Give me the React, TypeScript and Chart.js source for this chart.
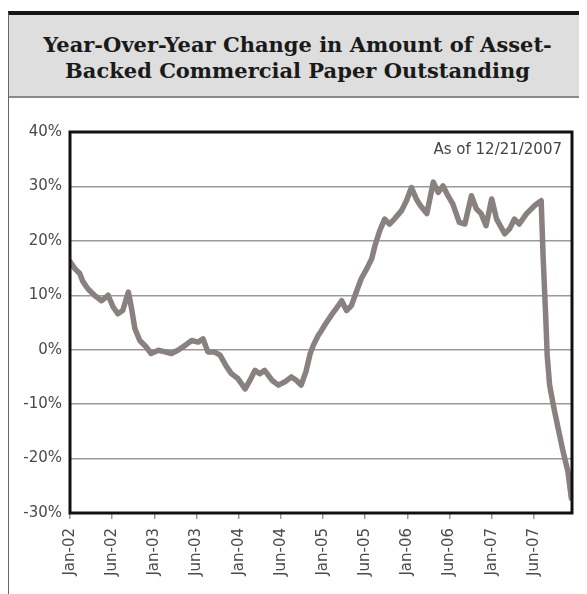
import React, { useEffect, useRef } from "react";
import { Chart, registerables } from "chart.js";

Chart.register(...registerables);

const titleLines = [
  "Year-Over-Year Change in Amount of Asset-",
  "Backed Commercial Paper Outstanding",
];
const asOfNote = "As of 12/21/2007";

// x-axis tick labels (one every 26 weeks)
const tickLabels = [
  "Jan-02", "Jun-02", "Jan-03", "Jun-03", "Jan-04", "Jun-04",
  "Jan-05", "Jun-05", "Jan-06", "Jun-06", "Jan-07", "Jun-07",
];
const weeksPerTick = 26;
const lastWeek = 309.5;

// weeks since the first week of Jan-02
const weeks = [
  0, 3, 6, 8, 11, 15, 19.5, 23.5, 26.5, 29.5, 32.5, 36, 38, 40, 43, 47, 50,
  54.5, 58.5, 62.5, 66.5, 71, 75, 79, 82, 85, 89, 92.5, 96.5, 99.5, 103.5,
  108, 111, 114, 117, 120, 124.5, 128.5, 132.5, 136.5, 139.5, 142.5, 145.5,
  148, 150, 153, 155, 157, 161, 164, 167.5, 170.5, 173.5, 176.5, 179.5, 183,
  186, 188, 191, 194, 197, 200, 204.5, 207.5, 210.5, 213.5, 216, 220, 224,
  227, 230, 233, 236, 240, 243.5, 247.5, 250.5, 253.5, 256.5, 260, 263, 268,
  271, 274, 277, 281.5, 286.5, 290.5, 291.7, 293.3, 294.2, 295.7, 298, 301,
  304, 307, 309.1,
];
// year-over-year change, %
const yoyChange = [
  16.2, 14.9, 14.0, 12.5, 11.2, 10.0, 9.0, 10.0, 7.9, 6.6, 7.2, 10.6, 7.5,
  3.9, 1.7, 0.5, -0.7, -0.1, -0.4, -0.7, -0.1, 0.8, 1.7, 1.4, 2.0, -0.4,
  -0.4, -1.0, -3.1, -4.4, -5.3, -7.2, -5.6, -3.8, -4.4, -3.8, -5.6, -6.5,
  -5.9, -5.0, -5.6, -6.5, -4.0, -0.8, 0.8, 2.6, 3.5, 4.5, 6.3, 7.5, 9.0,
  7.2, 8.1, 10.6, 13.0, 14.9, 16.7, 19.1, 21.9, 24.0, 23.1, 24.0, 25.6,
  27.4, 29.8, 27.7, 26.5, 25.0, 30.8, 28.9, 30.1, 28.3, 26.8, 23.4, 23.1,
  28.3, 25.9, 25.0, 22.8, 27.7, 24.0, 21.3, 22.2, 24.0, 23.1, 25.0, 26.5,
  27.4, 17.0, 6.0, -1.0, -6.5, -10.2, -14.5, -18.7, -22.4, -27.3,
];
const yMin = -30;
const yMax = 40;
const yStep = 10;

const tickFont = { family: "DejaVu Sans", size: 15 };

export default function App() {
  const ref = useRef<HTMLCanvasElement | null>(null);

  useEffect(() => {
    if (!ref.current) return;
    const framePlugin = {
      id: "frame",
      afterDraw(chart: any) {
        const { ctx, chartArea } = chart;
        ctx.save();
        ctx.strokeStyle = "#111";
        ctx.lineWidth = 3;
        ctx.strokeRect(
          chartArea.left,
          chartArea.top,
          chartArea.right - chartArea.left,
          chartArea.bottom - chartArea.top
        );
        ctx.fillStyle = "#444";
        ctx.font = "15px 'DejaVu Sans'";
        ctx.textAlign = "right";
        ctx.textBaseline = "middle";
        ctx.fillText(asOfNote, chartArea.right - 10, chartArea.top + 18);
        ctx.restore();
      },
    };
    const chart = new Chart(ref.current, {
      type: "line",
      data: {
        datasets: [
          {
            data: weeks.map((w, i) => ({ x: w, y: yoyChange[i] })),
            borderColor: "#888180",
            borderWidth: 5.5,
            pointRadius: 0,
            tension: 0,
            borderJoinStyle: "round",
            borderCapStyle: "round",
          },
        ],
      },
      options: {
        animation: false,
        responsive: true,
        maintainAspectRatio: false,
        layout: { padding: { top: 34, right: 15, left: 0, bottom: 0 } },
        plugins: {
          legend: { display: false },
          tooltip: { enabled: false },
        },
        scales: {
          x: {
            type: "linear",
            min: 0,
            max: lastWeek,
            afterBuildTicks: (s: any) => {
              s.ticks = tickLabels.map((_, i) => ({ value: i * weeksPerTick }));
            },
            afterFit: (s: any) => {
              s.height = 81;
            },
            ticks: {
              autoSkip: false,
              maxRotation: 90,
              minRotation: 90,
              font: tickFont,
              color: "#4a4a4a",
              padding: 9,
              callback: (v: any) => tickLabels[Math.round(Number(v) / weeksPerTick)],
            },
            grid: {
              drawOnChartArea: false,
              drawTicks: true,
              tickLength: 6,
              color: "#999",
              lineWidth: 1.5,
            },
            border: { display: false },
          },
          y: {
            min: yMin,
            max: yMax,
            afterFit: (s: any) => {
              s.width = 61;
            },
            ticks: {
              stepSize: yStep,
              font: tickFont,
              color: "#4a4a4a",
              padding: 8,
              callback: (v: any) => `${v}%`,
            },
            grid: { color: "#9a9a9a", lineWidth: 1.5, drawTicks: false },
            border: { display: false },
          },
        },
      },
      plugins: [framePlugin],
    } as any);
    return () => chart.destroy();
  }, []);

  return (
    <div
      style={{
        marginTop: 3,
        width: 577,
        borderTop: "4px solid #151515",
        borderLeft: "1.5px solid #666",
        boxSizing: "content-box",
      }}
    >
      <div
        style={{
          height: 77,
          paddingTop: 4,
          background: "#dedede",
          borderBottom: "2px solid #8a8a8a",
          display: "flex",
          flexDirection: "column",
          justifyContent: "center",
          alignItems: "center",
          fontFamily: "'DejaVu Serif', serif",
          fontWeight: "bold",
          fontSize: 21,
          lineHeight: "26px",
          color: "#1a1a1a",
        }}
      >
        {titleLines.map((t) => (
          <div key={t} style={{ whiteSpace: "nowrap" }}>{t}</div>
        ))}
      </div>
      <div style={{ position: "relative", width: 578, height: 496 }}>
        <canvas ref={ref} />
      </div>
    </div>
  );
}
